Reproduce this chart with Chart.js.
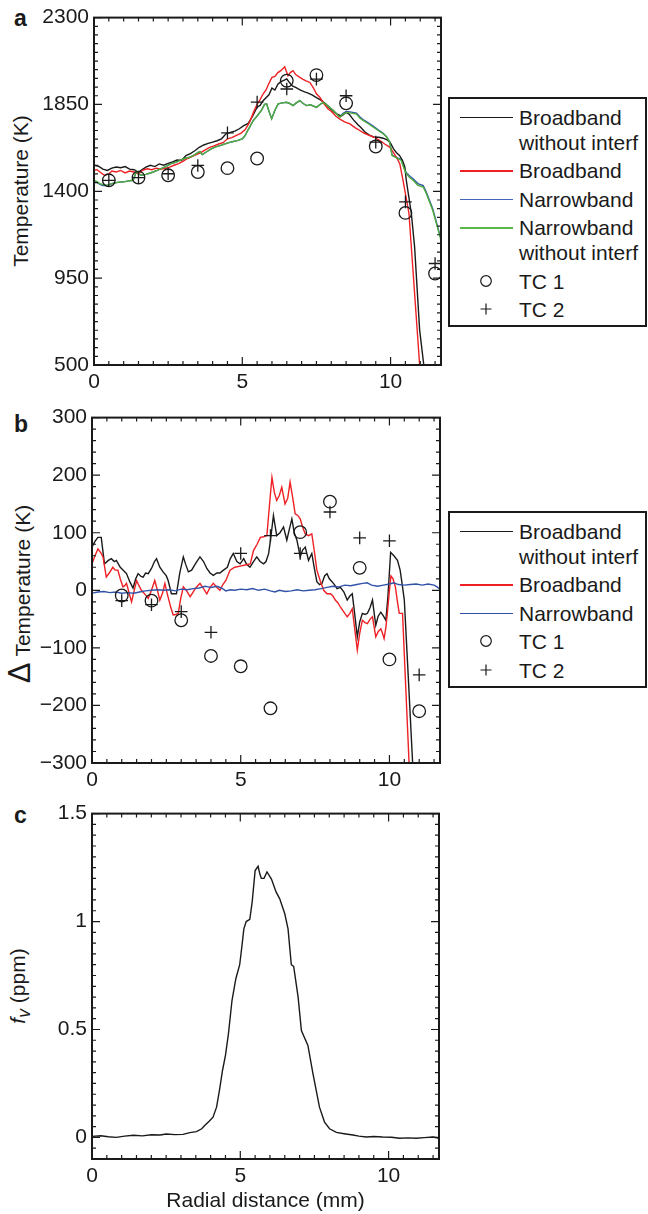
<!DOCTYPE html>
<html lang="en">
<head>
<meta charset="UTF-8">
<title>Temperature and soot profiles</title>
<script src="https://cdn.jsdelivr.net/npm/chart.js"></script>
<style>
    body { margin: 0; width: 648px; height: 1214px; position: relative; background: #fff; overflow: hidden;
           font-family: "Liberation Sans", Arial, sans-serif; color: #1a1a1a; }
    canvas { position: absolute; left: 0; }
    .letter { position: absolute; left: 14px; font-weight: bold; font-size: 23px; line-height: 23px; }
    .ytitle { position: absolute; white-space: nowrap; font-size: 21px; line-height: 24px;
              transform: translate(-50%, -50%) rotate(-90deg); }
    .legend { position: absolute; left: 448px; width: 199px; box-sizing: border-box; border: 2px solid #1a1a1a;
              padding-top: 5.5px; font-size: 21px; line-height: 25px; background: #fff; }
    .entry { display: flex; margin-bottom: 3.5px; }
    .key { position: relative; flex: none; width: 69px; height: 25px; }
    .ln { position: absolute; left: 10px; width: 53px; top: 12px; height: 1.5px; }
    .key svg { position: absolute; left: 29px; top: 5px; }
</style>
</head>
<body>

<div class="letter" style="top:7px">a</div>
<div class="letter" style="top:413px">b</div>
<div class="letter" style="top:804px">c</div>

<div class="ytitle" style="left:21px; top:191px">Temperature (K)</div>
<div class="ytitle" style="left:21px; top:594px"><span style="font-size:31px">&Delta;</span> Temperature (K)</div>
<div class="ytitle" style="left:21px; top:986px"><i>f</i><sub><i>v</i></sub> (ppm)</div>

<canvas id="chartA" width="648" height="400" style="top:0"></canvas>
<canvas id="chartB" width="648" height="396" style="top:400px"></canvas>
<canvas id="chartC" width="648" height="418" style="top:796px"></canvas>

<div class="legend" style="top:97px; height:230px">
    <div class="entry"><span class="key"><span class="ln" style="background:#1a1a1a"></span></span><span>Broadband<br>without interf</span></div>
    <div class="entry"><span class="key"><span class="ln" style="background:#ee2024"></span></span><span>Broadband</span></div>
    <div class="entry"><span class="key"><span class="ln" style="background:#4466b8"></span></span><span>Narrowband</span></div>
    <div class="entry"><span class="key"><span class="ln" style="background:#5cb548"></span></span><span>Narrowband<br>without interf</span></div>
    <div class="entry"><span class="key"><svg width="14" height="14"><circle cx="7" cy="7" r="5.3" fill="none" stroke="#1a1a1a" stroke-width="1.2"/></svg></span><span>TC 1</span></div>
    <div class="entry"><span class="key"><svg width="14" height="14"><path d="M7 1.5V12.5M1.5 7H12.5" stroke="#1a1a1a" stroke-width="1.2"/></svg></span><span>TC 2</span></div>
</div>

<div class="legend" style="top:511px; height:177px">
    <div class="entry"><span class="key"><span class="ln" style="background:#1a1a1a"></span></span><span>Broadband<br>without interf</span></div>
    <div class="entry"><span class="key"><span class="ln" style="background:#ee2024"></span></span><span>Broadband</span></div>
    <div class="entry"><span class="key"><span class="ln" style="background:#3253a8"></span></span><span>Narrowband</span></div>
    <div class="entry"><span class="key"><svg width="14" height="14"><circle cx="7" cy="7" r="5.3" fill="none" stroke="#1a1a1a" stroke-width="1.2"/></svg></span><span>TC 1</span></div>
    <div class="entry"><span class="key"><svg width="14" height="14"><path d="M7 1.5V12.5M1.5 7H12.5" stroke="#1a1a1a" stroke-width="1.2"/></svg></span><span>TC 2</span></div>
</div>

<script>
// ---- data: [radial distance (mm), value] ----
const xTicks = [0, 5, 10];
const xMax = 11.7;

// panel a: temperature (K)
const aTicks = [500, 950, 1400, 1850, 2300];
const aBroadNoInterf = [[0,1535],[0.15,1530],[0.3,1515],[0.45,1508],[0.6,1520],[0.75,1526],[0.9,1522],[1.05,1528],[1.2,1515],[1.35,1512],[1.5,1500],[1.6,1510],[1.75,1525],[1.9,1535],[2.05,1528],[2.2,1542],[2.35,1535],[2.5,1545],[2.65,1552],[2.8,1562],[2.95,1560],[3.1,1585],[3.25,1595],[3.4,1610],[3.55,1628],[3.7,1640],[3.85,1648],[4.0,1655],[4.15,1662],[4.3,1672],[4.45,1698],[4.6,1705],[4.75,1712],[4.9,1724],[5.05,1740],[5.2,1752],[5.35,1790],[5.5,1836],[5.6,1845],[5.7,1869],[5.8,1885],[5.9,1900],[6.0,1935],[6.1,1925],[6.2,1955],[6.3,1968],[6.4,1975],[6.5,1982],[6.6,1962],[6.7,1945],[6.8,1938],[6.9,1930],[7.0,1922],[7.1,1915],[7.2,1910],[7.35,1900],[7.5,1885],[7.65,1872],[7.8,1855],[7.95,1830],[8.1,1810],[8.2,1800],[8.35,1790],[8.5,1809],[8.6,1800],[8.75,1770],[8.9,1745],[9.0,1730],[9.15,1705],[9.3,1690],[9.45,1680],[9.6,1680],[9.75,1675],[9.9,1665],[10.0,1650],[10.1,1620],[10.2,1600],[10.3,1586],[10.4,1560],[10.48,1526],[10.53,1457],[10.7,1285],[10.81,1112],[10.98,681],[11.12,500],[11.2,360]];
const aBroad = [[0,1509],[0.1,1512],[0.2,1500],[0.35,1483],[0.5,1490],[0.6,1505],[0.75,1500],[0.9,1508],[1.05,1495],[1.2,1505],[1.35,1500],[1.5,1490],[1.65,1510],[1.8,1517],[1.95,1512],[2.1,1520],[2.25,1515],[2.4,1518],[2.55,1525],[2.7,1535],[2.85,1543],[3.0,1555],[3.15,1570],[3.3,1580],[3.45,1590],[3.6,1600],[3.75,1615],[3.9,1628],[4.05,1635],[4.2,1645],[4.35,1652],[4.5,1672],[4.65,1678],[4.8,1690],[4.95,1700],[5.1,1720],[5.25,1760],[5.4,1818],[5.5,1850],[5.6,1875],[5.7,1904],[5.8,1925],[5.9,1960],[6.0,1990],[6.1,1995],[6.2,2015],[6.3,2025],[6.43,2045],[6.54,1999],[6.62,2015],[6.71,2025],[6.8,2005],[6.94,1990],[7.05,1980],[7.15,1972],[7.28,1964],[7.4,1935],[7.5,1905],[7.62,1886],[7.75,1855],[7.9,1825],[8.0,1815],[8.15,1790],[8.29,1774],[8.45,1760],[8.63,1749],[8.8,1730],[8.96,1715],[9.1,1702],[9.3,1689],[9.45,1680],[9.64,1663],[9.8,1645],[9.97,1629],[10.1,1600],[10.2,1575],[10.31,1543],[10.42,1457],[10.62,1285],[10.98,500],[11.05,380]];
const aNarrow = [[0,1452],[0.1,1446],[0.2,1436],[0.3,1430],[0.45,1430],[0.6,1440],[0.75,1445],[0.9,1448],[1.05,1450],[1.2,1455],[1.32,1457],[1.43,1503],[1.5,1490],[1.6,1483],[1.75,1488],[1.9,1495],[2.0,1500],[2.15,1510],[2.3,1520],[2.45,1530],[2.6,1543],[2.75,1550],[2.9,1560],[3.05,1570],[3.2,1575],[3.35,1585],[3.5,1600],[3.57,1605],[3.65,1590],[3.8,1605],[3.95,1620],[4.1,1630],[4.25,1637],[4.4,1645],[4.55,1652],[4.7,1658],[4.85,1664],[5.0,1672],[5.1,1690],[5.2,1720],[5.37,1767],[5.5,1790],[5.65,1820],[5.75,1850],[5.82,1853],[5.9,1815],[5.99,1776],[6.1,1820],[6.21,1853],[6.35,1858],[6.49,1861],[6.6,1855],[6.71,1844],[6.82,1858],[6.94,1870],[7.05,1855],[7.17,1844],[7.3,1848],[7.5,1835],[7.62,1850],[7.73,1861],[7.9,1840],[8.07,1818],[8.18,1800],[8.29,1786],[8.4,1804],[8.51,1814],[8.68,1810],[8.85,1805],[8.96,1786],[9.07,1772],[9.25,1755],[9.41,1738],[9.58,1718],[9.75,1700],[9.87,1682],[9.97,1657],[10.05,1588],[10.15,1580],[10.36,1564],[10.45,1524],[10.53,1496],[10.65,1478],[10.76,1465],[10.92,1440],[11.1,1430],[11.2,1398],[11.3,1358],[11.42,1310],[11.55,1238],[11.7,1152]];
const aNarrowNoInterf = [[0,1457],[0.1,1450],[0.2,1440],[0.3,1435],[0.45,1431],[0.6,1440],[0.75,1445],[0.9,1448],[1.05,1450],[1.2,1455],[1.32,1457],[1.43,1505],[1.5,1490],[1.6,1483],[1.75,1488],[1.9,1495],[2.0,1500],[2.15,1510],[2.3,1520],[2.45,1530],[2.6,1543],[2.75,1550],[2.9,1560],[3.05,1570],[3.2,1575],[3.35,1585],[3.5,1600],[3.57,1605],[3.65,1590],[3.8,1605],[3.95,1620],[4.1,1630],[4.25,1637],[4.4,1645],[4.55,1652],[4.7,1658],[4.85,1664],[5.0,1672],[5.1,1690],[5.2,1720],[5.37,1767],[5.5,1790],[5.65,1820],[5.75,1850],[5.82,1853],[5.9,1815],[5.99,1776],[6.1,1820],[6.21,1853],[6.35,1858],[6.49,1861],[6.6,1855],[6.71,1844],[6.82,1858],[6.94,1870],[7.05,1855],[7.17,1844],[7.3,1848],[7.5,1835],[7.62,1850],[7.73,1861],[7.9,1840],[8.07,1818],[8.18,1800],[8.29,1784],[8.4,1800],[8.51,1809],[8.68,1805],[8.85,1800],[8.96,1780],[9.07,1767],[9.25,1750],[9.41,1733],[9.58,1715],[9.75,1698],[9.87,1680],[9.97,1655],[10.05,1585],[10.15,1577],[10.36,1560],[10.45,1520],[10.53,1491],[10.65,1470],[10.76,1457],[10.92,1431],[11.1,1422],[11.2,1390],[11.3,1350],[11.42,1302],[11.55,1230],[11.7,1146]];
const aTcX = [0.5, 1.5, 2.5, 3.5, 4.5, 5.5, 6.5, 7.5, 8.5, 9.5, 10.5, 11.5];
const aTc1 = [1457, 1471, 1483, 1500, 1520, 1570, 1973, 2002, 1856, 1632, 1288, 974];
const aTc2 = [1457, 1471, 1491, 1534, 1703, 1862, 1930, 1981, 1895, 1655, 1345, 1026];

// panel b: temperature difference (K)
const bTicks = [-300, -200, -100, 0, 100, 200, 300];
const bBroadNoInterf = [[0,75],[0.1,85],[0.2,92],[0.31,92],[0.42,46],[0.55,52],[0.65,55],[0.75,50],[0.82,52],[0.95,40],[1.05,35],[1.16,29],[1.27,15],[1.38,4],[1.47,20],[1.55,29],[1.65,24],[1.72,23],[1.8,30],[1.89,29],[2.0,38],[2.1,50],[2.17,55],[2.28,40],[2.39,32],[2.5,25],[2.56,17],[2.67,-6],[2.78,-6],[2.84,-6],[2.95,30],[3.07,58],[3.15,45],[3.24,32],[3.35,35],[3.5,48],[3.63,58],[3.75,50],[3.86,38],[3.97,30],[4.08,26],[4.2,30],[4.3,30],[4.42,35],[4.55,40],[4.65,55],[4.75,64],[4.87,50],[4.98,46],[5.1,55],[5.2,45],[5.31,40],[5.43,50],[5.54,58],[5.65,50],[5.77,46],[5.85,50],[5.94,64],[6.02,95],[6.1,130],[6.21,95],[6.32,100],[6.44,110],[6.55,87],[6.63,105],[6.72,124],[6.8,100],[6.89,87],[7.0,58],[7.08,70],[7.17,75],[7.28,52],[7.39,64],[7.47,40],[7.56,15],[7.65,10],[7.73,12],[7.82,25],[7.9,29],[7.98,20],[8.07,15],[8.15,10],[8.24,3],[8.35,5],[8.47,-3],[8.58,-17],[8.67,-10],[8.75,-6],[8.83,-40],[8.92,-81],[9.0,-55],[9.09,-40],[9.18,-42],[9.26,-40],[9.35,-30],[9.43,-17],[9.54,-61],[9.62,-45],[9.71,-38],[9.8,-45],[9.88,-52],[9.95,-10],[10.04,66],[10.15,60],[10.27,52],[10.36,35],[10.44,6],[10.5,-17],[10.61,-127],[10.78,-300],[10.85,-400]];
const bBroad = [[0,46],[0.1,60],[0.2,72],[0.3,65],[0.37,58],[0.48,23],[0.58,30],[0.7,40],[0.78,35],[0.87,35],[0.95,20],[1.04,6],[1.1,8],[1.16,12],[1.25,-5],[1.33,-20],[1.42,0],[1.5,17],[1.58,8],[1.66,0],[1.75,-5],[1.89,-14],[2.0,0],[2.11,17],[2.2,0],[2.28,-17],[2.37,-5],[2.45,12],[2.55,-10],[2.65,-30],[2.73,-43],[2.82,-42],[2.9,-40],[2.98,-15],[3.07,6],[3.17,0],[3.3,-11],[3.4,-3],[3.5,5],[3.63,12],[3.75,3],[3.86,-6],[3.97,5],[4.08,12],[4.2,5],[4.3,0],[4.4,10],[4.5,17],[4.64,35],[4.8,40],[4.98,42],[5.15,44],[5.32,46],[5.43,69],[5.55,80],[5.66,92],[5.77,93],[5.88,95],[5.97,150],[6.05,196],[6.13,170],[6.21,156],[6.3,165],[6.38,179],[6.49,150],[6.58,160],[6.66,188],[6.75,160],[6.83,133],[6.92,130],[7.0,124],[7.08,110],[7.17,98],[7.28,95],[7.39,98],[7.47,70],[7.56,35],[7.67,17],[7.79,0],[7.9,-6],[8.02,-6],[8.1,-10],[8.18,-17],[8.27,-22],[8.35,-29],[8.47,-38],[8.58,-46],[8.67,-40],[8.75,-32],[8.84,-70],[8.92,-104],[9.0,-75],[9.09,-52],[9.18,-56],[9.26,-58],[9.35,-50],[9.43,-46],[9.54,-81],[9.62,-72],[9.71,-67],[9.77,-75],[9.82,-84],[9.88,-65],[9.93,-40],[10.0,0],[10.05,25],[10.12,20],[10.2,6],[10.27,-20],[10.33,-40],[10.44,-40],[10.55,-170],[10.66,-300],[10.72,-400]];
const bNarrow = [[0,-5],[0.2,-3],[0.4,-2],[0.6,-4],[0.8,-3],[1.0,-5],[1.2,-4],[1.4,-5],[1.6,-3],[1.8,-1],[2.0,0],[2.2,1],[2.4,0],[2.6,1],[2.8,-1],[3.0,2],[3.2,1],[3.4,3],[3.6,4],[3.8,7],[3.9,6],[4.0,5],[4.2,7],[4.35,4],[4.5,-1],[4.65,1],[4.8,0],[5.0,2],[5.2,1],[5.4,3],[5.6,0],[5.8,2],[6.0,-1],[6.15,-3],[6.3,0],[6.5,-2],[6.7,-1],[6.9,1],[7.1,-1],[7.3,0],[7.5,1],[7.7,3],[7.9,5],[8.1,7],[8.3,6],[8.5,9],[8.7,8],[8.9,10],[9.1,12],[9.25,13],[9.4,9],[9.6,7],[9.8,9],[10.0,11],[10.15,13],[10.3,10],[10.5,9],[10.7,10],[10.9,11],[11.1,9],[11.3,11],[11.5,9],[11.6,6],[11.7,2]];
const bTcX = [1, 2, 3, 4, 5, 6, 7, 8, 9, 10, 11];
const bTc1 = [-9, -18, -52, -114, -132, -205, 101, 154, 39, -120, -210];
const bTc2 = [-18, -25, -37, -73, 64, 95, 64, 136, 91, 86, -147];

// panel c: soot volume fraction (ppm)
const cTicks = [0, 0.5, 1, 1.5];
const cSoot = [[0,0.005],[0.3,0.008],[0.55,0.003],[0.82,0.0],[1.1,0.006],[1.4,0.01],[1.7,0.007],[2.0,0.012],[2.3,0.011],[2.5,0.016],[2.8,0.013],[3.07,0.014],[3.3,0.022],[3.52,0.027],[3.7,0.04],[3.8,0.055],[3.95,0.075],[4.08,0.094],[4.2,0.14],[4.3,0.22],[4.4,0.31],[4.5,0.38],[4.6,0.48],[4.72,0.634],[4.85,0.735],[4.98,0.8],[5.05,0.88],[5.12,0.966],[5.2,1.0],[5.32,1.01],[5.4,1.09],[5.5,1.236],[5.6,1.256],[5.66,1.22],[5.71,1.2],[5.8,1.2],[5.9,1.23],[6.05,1.197],[6.21,1.136],[6.33,1.105],[6.5,1.036],[6.61,0.966],[6.72,0.8],[6.8,0.792],[6.95,0.65],[7.06,0.495],[7.28,0.426],[7.45,0.295],[7.67,0.14],[7.84,0.071],[8.01,0.04],[8.24,0.023],[8.5,0.017],[8.8,0.011],[9.0,0.006],[9.25,0.002],[9.5,0.004],[9.8,0.002],[10.1,0.001],[10.37,-0.004],[10.65,-0.002],[10.93,-0.004],[11.2,-0.001],[11.5,0.002],[11.7,-0.004]];

// ---- helpers ----
const INK = '#1a1a1a';
const FONT = '"Liberation Sans", Arial, sans-serif';
const pairs = arr => arr.map(p => ({ x: p[0], y: p[1] }));
const zip = (xs, ys) => xs.map((x, i) => ({ x: x, y: ys[i] }));
const fmt = v => String(v).replace('-', '\u2212');

function line(label, data, color, order) {
    return { label: label, data: pairs(data), showLine: true, borderColor: color, borderWidth: 1.4,
             pointRadius: 0, tension: 0, order: order };
}
function marks(label, data, style, order) {
    return { label: label, data: data, showLine: false, pointStyle: style, pointRadius: 6.3,
             borderColor: INK, backgroundColor: 'rgba(0,0,0,0)', pointBorderWidth: 1.3, order: order };
}

// inward ticks on all four sides + box frame
const frameTicks = {
    id: 'frameTicks',
    afterDatasetsDraw(chart, args, opts) {
        const { ctx, chartArea: a, scales: { x, y } } = chart;
        ctx.save();
        ctx.strokeStyle = INK;
        ctx.lineWidth = 1.2;
        ctx.beginPath();
        const nx = Math.round((x.max - x.min) / opts.xMinor);
        for (let k = 0; k <= nx; k++) {
            const v = x.min + k * opts.xMinor;
            const major = xTicks.some(t => Math.abs(t - v) < 1e-6);
            const len = major ? 8 : 4;
            const px = x.getPixelForValue(v);
            ctx.moveTo(px, a.bottom); ctx.lineTo(px, a.bottom - len);
            ctx.moveTo(px, a.top); ctx.lineTo(px, a.top + len);
        }
        const ny = Math.round((y.max - y.min) / opts.yMinor);
        for (let k = 0; k <= ny; k++) {
            const v = y.min + k * opts.yMinor;
            const major = opts.yMajor.some(t => Math.abs(t - v) < 1e-6);
            const len = major ? 8 : 4;
            const py = y.getPixelForValue(v);
            ctx.moveTo(a.left, py); ctx.lineTo(a.left + len, py);
            ctx.moveTo(a.right, py); ctx.lineTo(a.right - len, py);
        }
        ctx.stroke();
        ctx.lineWidth = 2;
        ctx.strokeRect(a.left, a.top, a.right - a.left, a.bottom - a.top);
        ctx.restore();
    }
};

function makePanel(id, p) {
    const tickFont = { family: FONT, size: 21 };
    new Chart(document.getElementById(id), {
        type: 'scatter',
        data: { datasets: p.datasets },
        options: {
            responsive: false,
            animation: false,
            layout: { padding: { top: 17, right: p.padRight, left: 0, bottom: 0 } },
            plugins: { legend: { display: false }, tooltip: { enabled: false },
                       frameTicks: { xMinor: 0.5, yMinor: p.yMinor, yMajor: p.yTicks } },
            scales: {
                x: {
                    type: 'linear', min: 0, max: xMax,
                    afterBuildTicks: s => { s.ticks = xTicks.map(v => ({ value: v })); },
                    afterFit: s => { s.height = p.xHeight; },
                    grid: { display: false, drawTicks: false },
                    border: { display: false },
                    ticks: { font: tickFont, color: INK, padding: 5, maxRotation: 0, autoSkip: false, callback: fmt },
                    title: p.xTitle ? { display: true, text: p.xTitle, font: { family: FONT, size: 21 }, color: INK,
                                        padding: { top: 2, bottom: 0 } } : { display: false }
                },
                y: {
                    type: 'linear', min: p.yMin, max: p.yMax,
                    afterBuildTicks: s => { s.ticks = p.yTicks.map(v => ({ value: v })); },
                    afterFit: s => { s.width = p.yWidth; },
                    grid: { display: false, drawTicks: false },
                    border: { display: false },
                    ticks: { font: tickFont, color: INK, padding: 5, autoSkip: false, callback: fmt }
                }
            }
        },
        plugins: [frameTicks]
    });
}

makePanel('chartA', {
    yMin: 500, yMax: 2300, yTicks: aTicks, yMinor: 45, yWidth: 94, xHeight: 35, padRight: 207,
    datasets: [
        marks('TC 1', zip(aTcX, aTc1), 'circle', 0),
        marks('TC 2', zip(aTcX, aTc2), 'cross', 0),
        line('Narrowband without interf', aNarrowNoInterf, '#4fae3c', 1),
        line('Broadband', aBroad, '#ee2024', 2),
        line('Broadband without interf', aBroadNoInterf, INK, 3),
        line('Narrowband', aNarrow, '#3253a8', 4)
    ]
});

makePanel('chartB', {
    yMin: -300, yMax: 300, yTicks: bTicks, yMinor: 20, yWidth: 92, xHeight: 33, padRight: 208,
    datasets: [
        marks('TC 1', zip(bTcX, bTc1), 'circle', 0),
        marks('TC 2', zip(bTcX, bTc2), 'cross', 0),
        line('Narrowband', bNarrow, '#3253a8', 1),
        line('Broadband', bBroad, '#ee2024', 2),
        line('Broadband without interf', bBroadNoInterf, INK, 3)
    ]
});

makePanel('chartC', {
    yMin: -0.1, yMax: 1.5, yTicks: cTicks, yMinor: 0.05, yWidth: 92, xHeight: 55, padRight: 209,
    xTitle: 'Radial distance (mm)',
    datasets: [ line('fv', cSoot, INK, 1) ]
});
</script>
</body>
</html>
